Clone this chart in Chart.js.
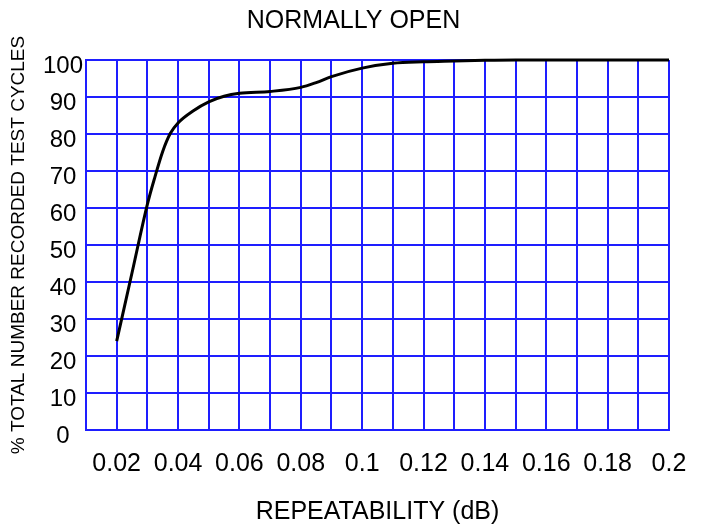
<!DOCTYPE html>
<html>
<head>
<meta charset="utf-8">
<script src="https://cdn.jsdelivr.net/npm/chart.js@4"></script>
<style>
  body { margin: 0; background: #fff; }
  #wrap { width: 707px; height: 531px; }
</style>
</head>
<body>
<div id="wrap"><canvas id="grafico"></canvas></div>
<script>
// curve
const repX = [0.02, 0.025, 0.03, 0.0325, 0.035, 0.0375, 0.04, 0.045, 0.05, 0.055, 0.06, 0.07, 0.08, 0.085, 0.09, 0.1, 0.11, 0.12, 0.13, 0.14, 0.15, 0.2];
const pctY = [24, 42.5, 61, 68.5, 75.3, 80.2, 83, 86.3, 88.7, 90.2, 91, 91.5, 92.6, 93.9, 95.5, 97.8, 99.1, 99.5, 99.7, 99.9, 100, 100];

// grid every 0.01, label every 0.02
const xGrid = [0.01, 0.02, 0.03, 0.04, 0.05, 0.06, 0.07, 0.08, 0.09, 0.1, 0.11, 0.12, 0.13, 0.14, 0.15, 0.16, 0.17, 0.18, 0.19, 0.2];
const xTickLabels = ['0.02', '0.04', '0.06', '0.08', '0.1', '0.12', '0.14', '0.16', '0.18', '0.2'];
const yTicks = [0, 10, 20, 30, 40, 50, 60, 70, 80, 90, 100];

const blue = '#1e1eff';
const fam = '"Liberation Sans", Arial, sans-serif';

const puntos = repX.map((x, i) => ({ x: x, y: pctY[i] }));

new Chart(document.querySelector('#grafico'), {
    type: 'line',
    data: {
        datasets: [{
            data: puntos,
            yAxisID: 'y',
            borderColor: '#000',
            borderWidth: 3,
            pointRadius: 0,
            cubicInterpolationMode: 'monotone',
            clip: 6
        }]
    },
    options: {
        responsive: true,
        maintainAspectRatio: false,
        animation: false,
        layout: { padding: 0 },
        plugins: {
            legend: { display: false },
            tooltip: { enabled: false },
            title: {
                display: true,
                text: 'NORMALLY OPEN',
                color: '#000',
                font: { family: fam, size: 25, weight: 'normal' },
                padding: { top: 6, bottom: 24 }
            }
        },
        scales: {
            x: {
                type: 'linear',
                min: 0.01,
                max: 0.2,
                afterBuildTicks: axis => { axis.ticks = xGrid.map(v => ({ value: v })); },
                afterFit: scale => { scale.height = 101; },
                grid: { color: blue, lineWidth: 2, drawTicks: false },
                border: { color: blue, width: 2 },
                ticks: {
                    autoSkip: false,
                    maxRotation: 0,
                    padding: 19,
                    color: '#000',
                    font: { family: fam, size: 25 },
                    callback: (v, i) => (i % 2 === 1 ? xTickLabels[(i - 1) / 2] : '')
                },
                title: {
                    display: true,
                    text: 'REPEATABILITY (dB)',
                    color: '#000',
                    font: { family: fam, size: 25 },
                    padding: { top: 0, bottom: 4 }
                }
            },
            y: {
                min: 0,
                max: 100,
                afterBuildTicks: axis => { axis.ticks = yTicks.map(v => ({ value: v })); },
                afterFit: scale => { scale.width = 86; },
                grid: { color: blue, lineWidth: 2, drawTicks: false },
                border: { color: blue, width: 2 },
                ticks: {
                    padding: 3,
                    crossAlign: 'center',
                    labelOffset: 6,
                    color: '#000',
                    font: { family: fam, size: 24 }
                },
                title: {
                    display: true,
                    text: '% TOTAL NUMBER RECORDED TEST CYCLES',
                    color: '#000',
                    font: { family: fam, size: 19 },
                    padding: { top: 7, bottom: 0 }
                }
            },
            // empty right margin so the title centres on the whole canvas
            margen: {
                position: 'right',
                grid: { display: false },
                border: { display: false },
                ticks: { display: false },
                afterFit: scale => { scale.width = 38; }
            }
        }
    }
});
</script>
</body>
</html>
